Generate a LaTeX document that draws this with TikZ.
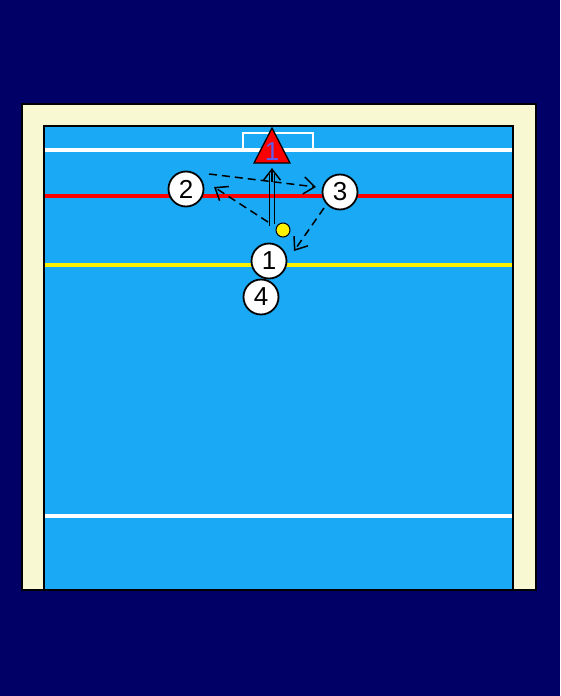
\documentclass[tikz,border=0pt]{standalone}
\usepackage{fontspec}
\setmainfont{Liberation Sans}
\usetikzlibrary{arrows.meta, positioning, calc}
\definecolor{navybg}{RGB}{0,0,102}
\definecolor{cream}{RGB}{248,248,210}
\definecolor{pool}{RGB}{26,170,245}
\definecolor{goalie}{RGB}{250,0,0}
\definecolor{gknum}{RGB}{95,95,235}
\tikzset{
  player/.style={
    circle, draw=black, line width=1.8pt, fill=white,
    minimum size=35pt, inner sep=0pt,
    font=\fontsize{26}{28}\selectfont
  },
  ball/.style={
    circle, draw=black, line width=1pt, fill=yellow,
    minimum size=14pt, inner sep=0pt
  },
  fieldline/.style={line width=3.4pt},
  arrow/.style={-{Straight Barb[length=11pt,width=17pt]}, line width=1.5pt, draw=black},
  darrow/.style={arrow, dash pattern=on 8pt off 5pt}
}

\begin{document}
\begin{tikzpicture}[x=1pt, y=-1pt]
  \useasboundingbox (0,0) rectangle (560,696);
  % background and pool
  \fill[navybg] (0,0) rectangle (560,696);
  \filldraw[fill=cream, draw=black, line width=2pt] (22,104) rectangle (536,590);
  \filldraw[fill=pool, draw=black, line width=2pt] (44,126) rectangle (513,590);

  % lines of the field
  \draw[fieldline, white] (45,150) -- (512,150);
  \draw[fieldline, red] (45,196) -- (512,196);
  \draw[fieldline, yellow] (45,265) -- (512,265);
  \draw[fieldline, white] (45,516) -- (512,516);
  \draw[white, line width=2.6pt] (243,150) -- (243,133) -- (313,133) -- (313,150);

  % goalkeeper
  \filldraw[fill=goalie, draw=black, line width=1.3pt] (272,128) -- (290,163) -- (254,163) -- cycle;
  \node[text=gknum, font=\fontsize{26}{28}\selectfont] (gk) at (272,152) {1};

  % players and ball
  \node[player] (p2) at (186,189) {2};
  \node[player] (p3) at (340,192) {3};
  \node[player] (p1) at (269,261) {1};
  \node[player] (p4) at (261,297) {4};
  \node[ball] (b) at (283,230) {};

  % movements
  \coordinate (s2) at (209,174);
  \coordinate (e3) at (316,187);
  \coordinate (sb) at (268,222);
  \coordinate (e2) at (214,187);
  \coordinate (s3) at (324,208);
  \coordinate (e1) at (294,251);
  \coordinate (tl) at (269.5,226);
  \coordinate (tr) at (274.5,224);
  \coordinate (hd) at (272,168);

  \draw[darrow] (s2) -- (e3);
  \draw[darrow] (sb) -- (e2);
  \draw[darrow] (s3) -- (e1);
  \draw[line width=1.5pt] (tl) -- (tl |- 0,174);
  \draw[line width=1.5pt] (tr) -- (tr |- 0,174);
  \draw[arrow] (272,182) -- (hd);
\end{tikzpicture}
\end{document}
